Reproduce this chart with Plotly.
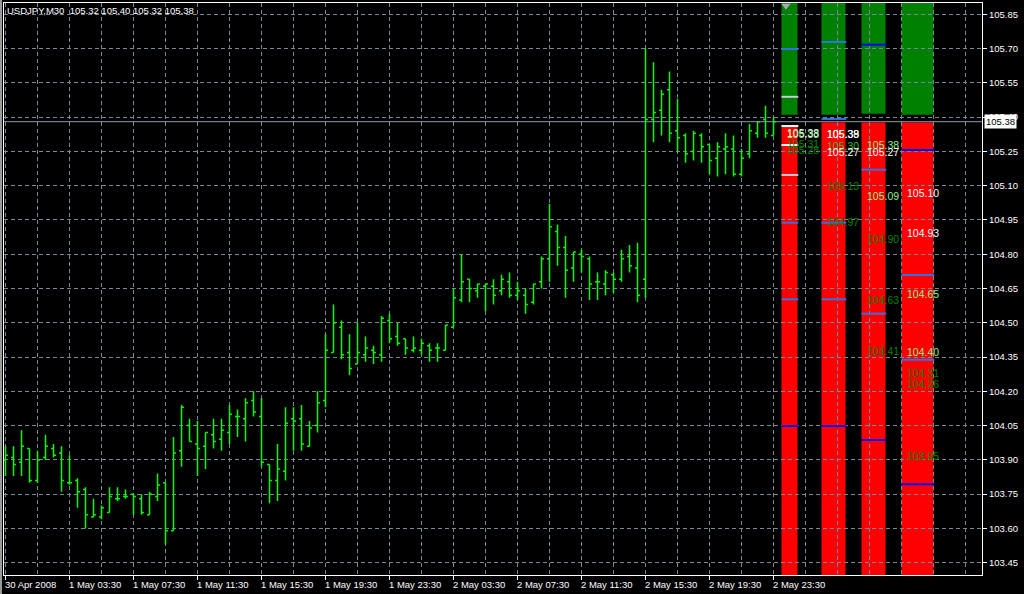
import plotly.graph_objects as go

# ---------------- data ----------------
symbol = "USDJPY,M30"

opens = [103.90, 103.91, 103.89, 103.95, 103.81, 103.91, 103.95, 103.93, 103.80, 103.81,
         103.77, 103.65, 103.65, 103.67, 103.73, 103.74, 103.75, 103.73, 103.66, 103.74,
         103.80, 103.59, 103.94, 104.05, 103.97, 103.96, 104.01, 103.99, 104.02, 104.09,
         104.08, 104.16, 104.09, 103.88, 103.81, 103.85, 104.08, 104.08, 103.96, 104.05,
         104.16, 104.37, 104.48, 104.37, 104.32, 104.36, 104.38, 104.36, 104.51, 104.44,
         104.43, 104.38, 104.38, 104.40, 104.39, 104.38, 104.48, 104.60, 104.69, 104.64,
         104.66, 104.66, 104.64, 104.68, 104.62, 104.62, 104.59, 104.68, 104.78, 104.90,
         104.83, 104.74, 104.80, 104.78, 104.68, 104.67, 104.71, 104.69, 104.79, 104.74,
         104.69, 105.39, 105.43, 105.52, 105.34, 105.32, 105.25, 105.32, 105.28, 105.22,
         105.26, 105.26, 105.15, 105.24, 105.33, 105.39, 105.32]
highs = [103.96, 103.96, 104.03, 103.95, 103.94, 104.01, 103.97, 103.96, 103.92, 103.82,
         103.78, 103.73, 103.70, 103.78, 103.78, 103.77, 103.75, 103.75, 103.76, 103.84,
         103.80, 104.00, 104.14, 104.08, 104.07, 104.02, 104.08, 104.08, 104.14, 104.12,
         104.17, 104.20, 104.17, 103.88, 103.97, 104.13, 104.13, 104.14, 104.07, 104.20,
         104.45, 104.58, 104.51, 104.45, 104.50, 104.44, 104.40, 104.53, 104.54, 104.50,
         104.43, 104.44, 104.43, 104.41, 104.41, 104.49, 104.65, 104.80, 104.69, 104.67,
         104.67, 104.69, 104.71, 104.72, 104.68, 104.65, 104.67, 104.79, 105.02, 104.93,
         104.88, 104.81, 104.82, 104.79, 104.72, 104.73, 104.72, 104.82, 104.84, 104.85,
         105.70, 105.64, 105.52, 105.60, 105.48, 105.33, 105.34, 105.33, 105.28, 105.29,
         105.33, 105.32, 105.26, 105.37, 105.38, 105.45, 105.40]
lows = [103.83, 103.83, 103.83, 103.80, 103.80, 103.90, 103.91, 103.76, 103.79, 103.69,
        103.60, 103.65, 103.64, 103.67, 103.72, 103.73, 103.66, 103.66, 103.66, 103.72,
        103.53, 103.59, 103.87, 103.98, 103.83, 103.86, 103.95, 103.94, 103.97, 104.00,
        103.98, 104.09, 103.87, 103.71, 103.72, 103.81, 103.94, 103.94, 103.96, 104.02,
        104.13, 104.37, 104.34, 104.27, 104.32, 104.33, 104.32, 104.33, 104.41, 104.40,
        104.36, 104.37, 104.36, 104.33, 104.33, 104.38, 104.48, 104.59, 104.59, 104.61,
        104.55, 104.58, 104.62, 104.61, 104.60, 104.54, 104.58, 104.65, 104.68, 104.75,
        104.61, 104.68, 104.72, 104.60, 104.60, 104.62, 104.63, 104.68, 104.72, 104.59,
        104.61, 105.29, 105.32, 105.29, 105.25, 105.20, 105.21, 105.20, 105.15, 105.14,
        105.15, 105.14, 105.14, 105.22, 105.31, 105.31, 105.32]
closes = [103.92, 103.88, 103.96, 103.81, 103.90, 103.96, 103.92, 103.81, 103.80, 103.76,
          103.66, 103.66, 103.69, 103.74, 103.73, 103.74, 103.74, 103.67, 103.75, 103.79,
          103.59, 103.93, 104.13, 103.98, 103.95, 104.02, 103.98, 104.03, 104.10, 104.09,
          104.15, 104.11, 103.89, 103.81, 103.86, 104.06, 104.07, 103.97, 104.04, 104.15,
          104.38, 104.50, 104.36, 104.30, 104.37, 104.39, 104.37, 104.52, 104.43, 104.41,
          104.39, 104.39, 104.41, 104.38, 104.39, 104.49, 104.61, 104.68, 104.65, 104.67,
          104.67, 104.62, 104.69, 104.62, 104.64, 104.58, 104.67, 104.78, 104.92, 104.83,
          104.73, 104.81, 104.79, 104.67, 104.68, 104.72, 104.69, 104.78, 104.75, 104.62,
          105.39, 105.42, 105.50, 105.33, 105.31, 105.24, 105.33, 105.27, 105.21, 105.27,
          105.27, 105.15, 105.22, 105.34, 105.38, 105.33, 105.38]

time_labels = ["30 Apr 2008", "1 May 03:30", "1 May 07:30", "1 May 11:30", "1 May 15:30",
               "1 May 19:30", "1 May 23:30", "2 May 03:30", "2 May 07:30", "2 May 11:30",
               "2 May 15:30", "2 May 19:30", "2 May 23:30"]
time_label_bars = [0, 8, 16, 24, 32, 40, 48, 56, 64, 72, 80, 88, 96]

price_ticks = [103.45, 103.60, 103.75, 103.90, 104.05, 104.20, 104.35, 104.50, 104.65,
               104.80, 104.95, 105.10, 105.25, 105.40, 105.55, 105.70, 105.85]

bid_price = 105.38

# indicator columns (zones and levels)
green_floor = [105.41, 105.41, 105.415, 105.41]
red_top = [105.365, 105.376, 105.376, 105.376]
col_levels = [
    [105.698, 105.489, 105.361, 105.278, 105.147, 104.938, 104.603, 104.048],
    [105.729, 105.392, 104.938, 104.603, 104.048],
    [105.717, 105.170, 104.540, 103.987],
    [105.256, 104.709, 104.338, 103.793],
]
col_level_kinds = [
    ["lb", "s", "w", "w", "s", "lb", "lb", "b"],
    ["lb", "lb", "lb", "lb", "b"],
    ["b", "lb", "lb", "b"],
    ["b", "lb", "lb", "b"],
]
col_texts = [
    ["105.38", "105.33", "105.31", "105.28"],
    ["105.38", "105.39", "105.30", "105.27", "105.13", "104.97"],
    ["105.38", "105.27", "105.09", "104.90", "104.63", "104.41"],
    ["105.10", "104.93", "104.65", "104.40", "104.31", "104.26", "103.95"],
]
col_text_y = [
    [105.330, 105.328, 105.282, 105.255],
    [105.326, 105.326, 105.274, 105.248, 105.100, 104.941],
    [105.278, 105.248, 105.056, 104.867, 104.600, 104.378],
    [105.069, 104.894, 104.626, 104.373, 104.280, 104.232, 103.918],
]
col_text_kinds = [
    ["w", "lg", "g", "g"],
    ["w", "w", "mg", "w", "g", "g"],
    ["lg", "w", "lg", "g", "g", "g"],
    ["w", "w", "lg", "lg", "g", "g", "g"],
]

# ---------------- layout / style ----------------
W, H = 1024, 594
ML, MR, MT, MB = 4, 42, 3, 19
X_RANGE = [-0.1875, 122.0625]
Y_RANGE = [103.3962, 105.8995]
COL_X = [(97, 99), (102, 105), (107, 110), (112, 116)]
TEXT_DX = 0.5
GRID = "#778899"
BAR_COLOR = "#00FF00"
LINE_COLORS = {"lb": "#2E72E6", "b": "#0000FF", "w": "#FFFFFF", "s": "#C4CCD4"}
TEXT_COLORS = {"w": "#FFFFFF", "lg": "#90EE90", "g": "#008000", "mg": "#3CB33C"}
FONT = "Liberation Sans, Arial, sans-serif"

idx = list(range(len(opens)))

fig = go.Figure()

# column zones as shapes below the grid
shapes = []
for (x0, x1), gf, rt in zip(COL_X, green_floor, red_top):
    shapes.append(dict(type="rect", xref="x", yref="y", x0=x0, x1=x1, y0=gf, y1=106.5,
                       fillcolor="#008000", line_width=0, layer="below"))
    shapes.append(dict(type="rect", xref="x", yref="y", x0=x0, x1=x1, y0=102.5, y1=rt,
                       fillcolor="#FF0000", line_width=0, layer="below"))

# bid line
shapes.append(dict(type="line", xref="paper", yref="y", x0=0, x1=1, y0=bid_price, y1=bid_price,
                   line=dict(color="#8C9BAB", width=1), layer="above"))
# left window border
shapes.append(dict(type="rect", xref="paper", yref="paper", x0=-4 / 978, x1=-2 / 978,
                   y0=-19 / 572, y1=1 + 3 / 572, fillcolor="#9A9A9A", line_width=0))

# price bars
fig.add_trace(go.Ohlc(x=idx, open=opens, high=highs, low=lows, close=closes,
                      increasing=dict(line=dict(color=BAR_COLOR, width=1.5)),
                      decreasing=dict(line=dict(color=BAR_COLOR, width=1.5)),
                      tickwidth=0.3, hoverinfo="skip"))

# level lines in columns
for kind, color in LINE_COLORS.items():
    xs, ys = [], []
    for (x0, x1), levels, kinds in zip(COL_X, col_levels, col_level_kinds):
        for lv, k in zip(levels, kinds):
            if k == kind:
                xs += [x0, x1 + 0.1, None]
                ys += [lv, lv, None]
    if xs:
        fig.add_trace(go.Scatter(x=xs, y=ys, mode="lines", line=dict(color=color, width=2),
                                 hoverinfo="skip"))

# small grey arrow at top of first column
fig.add_trace(go.Scatter(x=[COL_X[0][0] + 0.56], y=[105.888], mode="markers",
                         marker=dict(symbol="triangle-down", size=8, color="#A8A8A8"),
                         hoverinfo="skip"))

annotations = []
for (x0, x1), texts, tys, kinds in zip(COL_X, col_texts, col_text_y, col_text_kinds):
    for t, ty, k in zip(texts, tys, kinds):
        annotations.append(dict(x=x0 + TEXT_DX, y=ty, xref="x", yref="y", text=t,
                                showarrow=False, xanchor="left", yanchor="middle",
                                borderpad=0,
                                font=dict(family=FONT, size=10.5, color=TEXT_COLORS[k])))

# time axis labels (left aligned at tick)
for b, lab in zip(time_label_bars, time_labels):
    annotations.append(dict(x=b, y=0, xref="x", yref="paper", text=lab, showarrow=False,
                            xanchor="left", yanchor="top", xshift=-2, yshift=-3, borderpad=0,
                            font=dict(family=FONT, size=9.5, color="#FFFFFF")))

# header
header = "%s  %.2f %.2f %.2f %.2f" % (symbol, opens[-1], highs[-1], lows[-1], closes[-1])
annotations.append(dict(x=0, y=1, xref="paper", yref="paper", text=header, showarrow=False,
                        xanchor="left", yanchor="top", xshift=2, yshift=-1, borderpad=0,
                        font=dict(family=FONT, size=9.5, color="#FFFFFF")))

# bid price box
annotations.append(dict(x=1, y=bid_price, xref="paper", yref="y", text="%.2f" % bid_price,
                        showarrow=False, xanchor="left", yanchor="middle", xshift=2,
                        bgcolor="#FFFFFF", borderpad=1,
                        font=dict(family=FONT, size=9.5, color="#000000")))

fig.update_layout(
    width=W, height=H,
    margin=dict(l=ML, r=MR, t=MT, b=MB, pad=0, autoexpand=False),
    paper_bgcolor="#000000", plot_bgcolor="#000000",
    showlegend=False,
    shapes=shapes,
    annotations=annotations,
    xaxis=dict(range=X_RANGE, rangeslider=dict(visible=False), showticklabels=False,
               automargin=False,
               tickmode="array", tickvals=time_label_bars, ticks="outside", ticklen=4,
               tickcolor="#FFFFFF", showgrid=True, gridcolor=GRID, griddash="4px,3px",
               gridwidth=1, zeroline=False, showline=True, linecolor="#FFFFFF", mirror=True,
               linewidth=1,
               minor=dict(tickmode="array", tickvals=list(range(4, 123, 4)), showgrid=True,
                          gridcolor=GRID, griddash="4px,3px", gridwidth=1, ticks="")),
    yaxis=dict(range=Y_RANGE, side="right", automargin=False, tickmode="array",
               tickvals=price_ticks,
               ticktext=["%.2f" % v for v in price_ticks], ticks="outside", ticklen=4,
               tickcolor="#FFFFFF", tickfont=dict(family=FONT, size=9.5, color="#FFFFFF"),
               showgrid=True, gridcolor=GRID, griddash="4px,3px", gridwidth=1,
               zeroline=False, showline=True, linecolor="#FFFFFF", mirror=True, linewidth=1),
)

fig.write_html("out.html", config={"displayModeBar": False, "staticPlot": False},
               post_script="document.body.style.margin='0px';document.body.style.background='#000';")
